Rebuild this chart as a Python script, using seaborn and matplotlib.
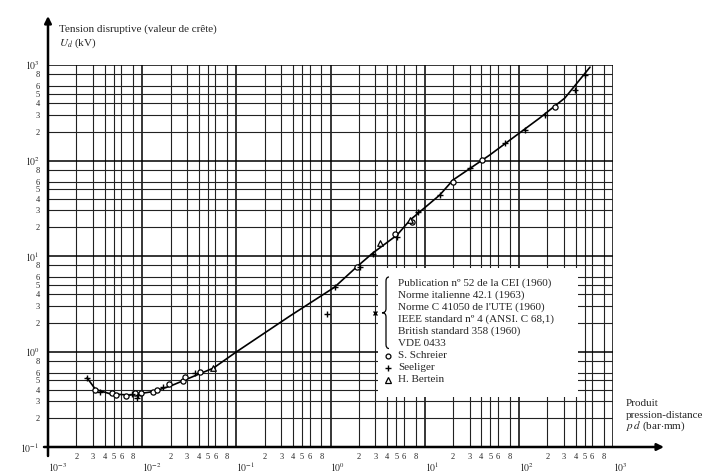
"""
Paschen-type curve: breakdown voltage (peak) vs pressure-distance product pd.
Log-log grid chart with data from several sources.
"""

import numpy as np
import matplotlib
matplotlib.use('Agg')
import matplotlib.pyplot as plt
from matplotlib.patches import Rectangle, PathPatch
from matplotlib.path import Path
import seaborn as sns

sns.set_style('white')
plt.rcParams['font.family'] = ['Liberation Serif', 'DejaVu Serif']
plt.rcParams['mathtext.fontset'] = 'stix'

W, H = 714, 474

# reference curve (standards)
pd_curve = [0.0026, 0.0032, 0.0046, 0.0074, 0.013, 0.020, 0.030, 0.057, 0.10,
            0.37, 1.1, 1.9, 2.8, 5.1, 7.0, 14.5, 20, 49, 167, 308, 570]
ud_curve = [0.53, 0.40, 0.36, 0.35, 0.38, 0.435, 0.515, 0.67, 0.99,
            2.35, 4.7, 7.7, 10.7, 16.6, 23.8, 43.6, 62.5, 114, 279, 451, 950]

# S. Schreier (o)
pd_schreier = [0.00315, 0.00474, 0.00527, 0.00673, 0.0084, 0.00964, 0.0131,
               0.01426, 0.0193, 0.0273, 0.0284, 0.0411, 1.89, 4.83, 7.26,
               20.1, 40.5, 241]
ud_schreier = [0.395, 0.371, 0.348, 0.342, 0.371, 0.371, 0.377, 0.395, 0.457,
               0.495, 0.545, 0.61, 7.73, 17.0, 22.9, 60, 101, 363]

# Seeliger (+)
pd_seeliger = [0.00258, 0.00356, 0.00775, 0.0091, 0.00875, 0.01675, 0.0364,
               0.916, 1.11, 2.05, 2.84, 5.03, 8.53, 14.5, 30.2, 70.6, 116,
               189, 393, 501]
ud_seeliger = [0.524, 0.38, 0.359, 0.351, 0.324, 0.422, 0.592, 2.47, 4.73,
               7.62, 10.5, 15.9, 29.1, 43.6, 83.4, 152, 208, 299, 547, 785]

# H. Bertein (triangles)
pd_bertein = [0.0569, 3.34, 6.97]
ud_bertein = [0.676, 13.6, 23.8]

x_decades = [-3, -2, -1, 0, 1, 2, 3]
y_decades = [-1, 0, 1, 2, 3]
minor_mult = [2, 3, 4, 5, 6, 8]

standards = [
    'Publication nº 52 de la CEI (1960)',
    'Norme italienne 42.1 (1963)',
    "Norme C 41050 de l'UTE (1960)",
    'IEEE standard nº 4 (ANSI. C 68,1)',
    'British standard 358 (1960)',
    'VDE 0433',
]
sources = ['S. Schreier', 'Seeliger', 'H. Bertein']

# axes placement in pixels
AX_L, AX_R, AX_T, AX_B = 48, 613, 65, 447


def fx(px):
    return px / W


def fy(py):
    return 1 - py / H


def ax_x(px):
    return (px - AX_L) / (AX_R - AX_L)


def ax_y(py):
    return (AX_B - py) / (AX_B - AX_T)


fig = plt.figure(figsize=(W / 100, H / 100), dpi=100)
ax = fig.add_axes([fx(AX_L), fy(AX_B), fx(AX_R) - fx(AX_L), fy(AX_T) - fy(AX_B)])
ax.set_xscale('log')
ax.set_yscale('log')
ax.set_xlim(10.0 ** x_decades[0], 10.0 ** x_decades[-1])
ax.set_ylim(10.0 ** y_decades[0], 10.0 ** y_decades[-1])

for s in ax.spines.values():
    s.set_visible(False)

# ticks and labels
x_major = [10.0 ** d for d in x_decades]
x_minor = [m * 10.0 ** d for d in x_decades[:-1] for m in minor_mult]
y_major = [10.0 ** d for d in y_decades]
y_minor = [m * 10.0 ** d for d in y_decades[:-1] for m in minor_mult]

ax.set_xticks(x_major, labels=[f'$10^{{{d}}}$' for d in x_decades],
              ha='left', fontsize=7)
ax.set_xticks(x_minor, labels=[str(m) for d in x_decades[:-1] for m in minor_mult],
              minor=True, fontsize=6)
ax.set_yticks(y_major, labels=[f'$10^{{{d}}}$' for d in y_decades], fontsize=7)
ax.set_yticks(y_minor, labels=[str(m) for d in y_decades[:-1] for m in minor_mult],
              minor=True, fontsize=6)
ax.tick_params(axis='x', which='major', direction='out', length=6, width=1, pad=4)
ax.tick_params(axis='x', which='minor', direction='out', length=2, width=0.8, pad=2)
ax.tick_params(axis='y', which='major', direction='out', length=4, width=1, pad=2)
ax.tick_params(axis='y', which='minor', direction='out', length=2, width=0.8, pad=4)

ax.grid(True, which='major', color='black', lw=1.1)
ax.grid(True, which='minor', color='#222222', lw=0.8)
ax.set_axisbelow(True)

# axes arrows
ax.annotate('', xy=(0, ax_y(16)), xytext=(0, ax_y(456)), xycoords='axes fraction',
            arrowprops=dict(arrowstyle='-|>', color='black', lw=1.8,
                            mutation_scale=10, shrinkA=0, shrinkB=0))
ax.annotate('', xy=(ax_x(664), 0), xytext=(ax_x(44), 0), xycoords='axes fraction',
            arrowprops=dict(arrowstyle='-|>', color='black', lw=1.8,
                            mutation_scale=10, shrinkA=0, shrinkB=0))

# legend box
ax.add_patch(Rectangle((ax_x(378), ax_y(397)), ax_x(578) - ax_x(378),
                       ax_y(268) - ax_y(397), transform=ax.transAxes,
                       facecolor='white', edgecolor='none', zorder=3))

# curve and data points
sns.lineplot(x=pd_curve, y=ud_curve, ax=ax, color='black', lw=1.2,
             sort=False, estimator=None, zorder=4)
sns.scatterplot(x=pd_schreier, y=ud_schreier, ax=ax, marker='o', s=14,
                facecolor='white', edgecolor='black', linewidth=0.9, zorder=5)
sns.scatterplot(x=pd_seeliger, y=ud_seeliger, ax=ax, marker='+', s=22,
                color='black', linewidth=1.0, zorder=5)
sns.scatterplot(x=pd_bertein, y=ud_bertein, ax=ax, marker='^', s=16,
                facecolor='white', edgecolor='black', linewidth=0.9, zorder=5)

# legend contents
line_y = [283 + 12.1 * i for i in range(len(standards) + len(sources))]
for i, txt in enumerate(standards + sources):
    ax.text(ax_x(398), ax_y(line_y[i]), txt, transform=ax.transAxes,
            fontsize=8, va='center', ha='left', zorder=6)

# brace grouping the standards
by0, by1 = line_y[0] - 6, line_y[len(standards) - 1] + 5
bym = (by0 + by1) / 2
bx, bt = 387, 382
verts = [(bx + 2, by0), (bx - 1, by0), (bx - 1, by0 + 4), (bx - 1, bym - 4),
         (bx - 1, bym), (bt, bym), (bx - 1, bym), (bx - 1, bym + 4),
         (bx - 1, by1 - 4), (bx - 1, by1), (bx + 2, by1)]
verts = [(ax_x(a), ax_y(b)) for a, b in verts]
codes = [Path.MOVETO, Path.CURVE3, Path.CURVE3, Path.LINETO, Path.CURVE3,
         Path.CURVE3, Path.CURVE3, Path.CURVE3, Path.LINETO, Path.CURVE3,
         Path.CURVE3]
ax.add_patch(PathPatch(Path(verts, codes), transform=ax.transAxes,
                       facecolor='none', edgecolor='black', lw=0.9, zorder=6))
ax.plot([ax_x(375)], [ax_y(bym)], marker='x', ms=3, mew=1, color='black',
        transform=ax.transAxes, zorder=6, clip_on=False)

marker_styles = [dict(marker='o', mfc='white', mec='black', ms=3.5, mew=0.9),
                 dict(marker='+', color='black', ms=4.5, mew=1.0),
                 dict(marker='^', mfc='white', mec='black', ms=4, mew=0.9)]
for k, st in enumerate(marker_styles):
    ax.plot([ax_x(388)], [ax_y(line_y[len(standards) + k])], ls='none',
            transform=ax.transAxes, zorder=6, **st)

# axis titles
fig.text(fx(59), fy(29), 'Tension disruptive (valeur de crête)', fontsize=8,
         va='center', ha='left')
fig.text(fx(59), fy(43), '$U_d$ (kV)', fontsize=8, va='center', ha='left')
for txt, py in zip(['Produit', 'pression-distance', '$p\\,d$ (bar$\\cdot$mm)'],
                   [404, 415, 426]):
    fig.text(fx(626), fy(py), txt, fontsize=8, va='center', ha='left')

fig.savefig('out.png', dpi=100, facecolor='white')
